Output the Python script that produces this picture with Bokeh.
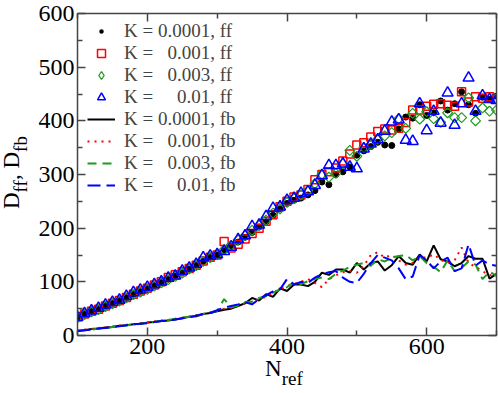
import numpy as np
from bokeh.plotting import figure
from bokeh.models import (FixedTicker, LinearAxis, Legend, LegendItem, Range1d, Div,
                          CustomJSTickFormatter)
from bokeh.layouts import row, column
from bokeh.embed import file_html
from bokeh.resources import INLINE

# ---------------- data ----------------
n_ref = [100, 110, 120, 130, 140, 150, 160, 170, 180, 190,
         200, 210, 220, 230, 240, 250, 260, 270, 280, 290,
         300, 310, 320, 330, 340, 350, 360, 370, 380, 390,
         400, 410, 420, 430, 440, 450, 460, 470, 480, 490,
         500, 510, 520, 530, 540, 550, 560, 570, 580, 590,
         600, 610, 620, 630, 640, 650, 660, 670, 680, 690, 700]

ff_k0001 = [34, 40, 45, 50, 55, 60, 65, 71, 77, 82,
            88, 93, 99, 105, 111, 117, 124, 131, 138, 146,
            150, 158, 166, 174, 183, 192, 202, 212, 224, 236,
            246, 252, 256, 262, 270, 286, 281, 300, 305, 314,
            336, 344, 352, 360, 355, 354, 385, 407, 405, 430,
            410, 415, 437, 420, 432, 454, 430, 414, 444, 440, 446]

ff_k001 = [35, 40, 45, 49, 55, 60, 65, 71, 77, 83,
           88, 94, 100, 108, 113, 119, 125, 131, 139, 146,
           150, 175, 163, 170, 180, 190, 200, 213, 225, 240,
           250, 258, 262, 272, 290, 300, 305, 312, 325, 338,
           355, 359, 370, 380, 385, 383, 386, 397, 420, 420,
           427, 431, 432, 429, 427, 454, 435, 445, 442, 445, 440]

ff_k003 = [33, 39, 44, 48, 54, 59, 64, 70, 76, 81,
           86, 92, 98, 104, 110, 116, 124, 130, 138, 145,
           150, 160, 168, 178, 186, 196, 205, 215, 228, 236,
           248, 255, 262, 270, 283, 300, 295, 302, 320, 345,
           334, 350, 356, 366, 372, 378, 404, 386, 414, 403,
           417, 404, 397, 415, 406, 406, 443, 400, 424, 418, 420]

ff_k01 = [34, 41, 46, 51, 57, 62, 66, 73, 80, 85,
          90, 95, 100, 107, 111, 120, 126, 133, 145, 148,
          151, 157, 165, 179, 186, 203, 206, 222, 237, 240,
          252, 256, 265, 268, 280, 298, 317, 317, 320, 314,
          311, 348, 357, 365, 381, 398, 402, 364, 362, 432,
          382, 418, 396, 452, 392, 432, 480, 418, 447, 440, 438]

fb_k0001 = [9, 10, 12, 13, 15, 16, 18, 19, 21, 22,
            24, 25, 27, 28, 30, 32, 35, 36, 40, 42,
            45, 48, 50, 55, 60, 70, 65, 77, 72, 88,
            83, 95, 95, 92, 100, 117, 113, 123, 123, 117,
            135, 123, 135, 138, 121, 131, 148, 135, 132, 151,
            138, 168, 142, 138, 129, 135, 148, 143, 143, 106, 115]

fb_k001 = [9, 11, 12, 14, 15, 17, 18, 20, 21, 23,
           24, 26, 28, 29, 31, 33, 35, 38, 40, 43,
           46, 50, 52, 56, 60, 63, 68, 72, 80, 86,
           92, 96, 100, 105, 98, 90, 105, 112, 118, 120,
           117, 130, 150, 155, 145, 150, 140, 132, 135, 146,
           145, 151, 141, 135, 140, 164, 135, 128, 120, 112, 115]

fb_k003 = [9, 10, 11, 13, 14, 16, 17, 19, 20, 22,
           24, 25, 27, 29, 31, 33, 35, 37, 40, 43,
           46, 68, 52, 56, 62, 63, 70, 73, 80, 86,
           90, 100, 96, 101, 105, 108, 105, 115, 121, 128,
           132, 135, 130, 142, 138, 145, 148, 150, 140, 148,
           135, 128, 118, 140, 120, 126, 138, 132, 105, 119, 111]

fb_k01 = [8, 10, 11, 13, 14, 16, 17, 19, 21, 22,
          23, 25, 27, 28, 30, 32, 34, 37, 40, 42,
          47, 52, 55, 58, 62, 58, 68, 75, 82, 86,
          105, 95, 100, 98, 108, 114, 118, 120, 108, 100,
          98, 115, 135, 150, 145, 140, 125, 105, 110, 150,
          140, 125, 138, 145, 120, 125, 170, 130, 140, 132, 130]

legend_labels = ["K = 0.0001, ff",
                 "K = \u00a0\u00a00.001, ff",
                 "K = \u00a0\u00a00.003, ff",
                 "K = \u00a0\u00a0\u00a0\u00a00.01, ff",
                 "K = 0.0001, fb",
                 "K = \u00a0\u00a00.001, fb",
                 "K = \u00a0\u00a00.003, fb",
                 "K = \u00a0\u00a0\u00a0\u00a00.01, fb"]

x_major = [200, 400, 600]
x_minor = [100, 300, 500, 700]
y_major = [0, 100, 200, 300, 400, 500, 600]
y_minor = [50, 150, 250, 350, 450, 550]

# ---------------- figure ----------------
FONT = "Liberation Serif"
AX = "#444444"
GREEN = "#1f9a1f"
NAN = float("nan")

Y_W = 30                 # width of the y-title strip
P_W, P_H = 498 - Y_W, 368
p = figure(width=P_W, height=P_H, x_range=Range1d(100, 700), y_range=Range1d(0, 600),
           output_backend="svg", toolbar_location=None,
           min_border_left=77 - Y_W, min_border_right=2, min_border_top=13,
           min_border_bottom=33)
p.xgrid.visible = False
p.ygrid.visible = False
p.outline_line_color = None

xt = FixedTicker(ticks=x_major, minor_ticks=x_minor)
yt = FixedTicker(ticks=y_major, minor_ticks=y_minor)
blank = CustomJSTickFormatter(code="return ''")


def style_axis(ax, show_labels=True):
    ax.axis_line_color = AX
    ax.axis_line_width = 1.5
    ax.major_tick_line_color = AX
    ax.minor_tick_line_color = AX
    ax.major_tick_line_width = 1.5
    ax.minor_tick_line_width = 1.5
    ax.major_tick_in = 8
    ax.major_tick_out = 0
    ax.minor_tick_in = 5
    ax.minor_tick_out = 0
    ax.major_label_text_font = FONT
    ax.major_label_text_color = "black"
    ax.major_label_text_font_size = "24px"
    if show_labels:
        ax.major_label_standoff = 3
    else:
        ax.formatter = blank
        ax.major_label_standoff = 0


p.xaxis.ticker = xt
p.yaxis.ticker = yt
style_axis(p.xaxis[0])
style_axis(p.yaxis[0])

top = LinearAxis(ticker=xt)
style_axis(top, False)
p.add_layout(top, "above")
right = LinearAxis(ticker=yt)
style_axis(right, False)
p.add_layout(right, "right")

# ---------------- glyphs ----------------
r1 = p.scatter(n_ref, ff_k0001, marker="circle", size=6, color="black")
r2 = p.scatter(n_ref, ff_k001, marker="square", size=8, line_color="red",
               fill_alpha=0, line_width=1.5)
r3 = p.scatter(n_ref, ff_k003, marker="square", size=7, angle=np.pi / 4,
               line_color=GREEN, fill_alpha=0, line_width=1.2)
r4 = p.scatter(n_ref, ff_k01, marker="triangle", size=11, line_color="blue",
               fill_alpha=0, line_width=1.5)

r5 = p.line(n_ref, fb_k0001, line_color="black", line_width=2)
r6 = p.line(n_ref, fb_k001, line_color="red", line_width=2, line_dash="2 5")
r7 = p.line(n_ref, fb_k003, line_color=GREEN, line_width=2, line_dash="9 6")
r8 = p.line(n_ref, fb_k01, line_color="blue", line_width=2, line_dash="13 6")

# legend-key styles only (NaN = nothing drawn in the plot): small dot, diamond
k1 = p.scatter(x=[NAN], y=[NAN], marker="circle", size=6, fill_color="black",
               line_color="white", line_width=3.5)
k3 = p.scatter(x=[NAN], y=[NAN], marker="diamond", size=10, line_color=GREEN,
               fill_alpha=0, line_width=1.3)

rends = [k1, r2, k3, r4, r5, r6, r7, r8]
legend = Legend(items=[LegendItem(label=l, renderers=[r]) for l, r in zip(legend_labels, rends)],
                location=(10, 139), margin=0, padding=0, spacing=-1,
                glyph_width=28, glyph_height=20, label_height=20, label_standoff=9,
                label_text_font=FONT, label_text_font_size="19px",
                background_fill_alpha=0, border_line_color=None)
p.add_layout(legend)

# ---------------- axis titles as HTML text (with subscripts) ----------------
ylab_html = (
    f'<div style="position:relative;width:{Y_W}px;height:393px;">'
    '<div style="position:absolute;left:0px;top:209px;transform:rotate(-90deg);'
    'transform-origin:0 0;white-space:nowrap;font-family:\'Liberation Serif\';'
    'font-size:23px;line-height:23px;color:black;">'
    'D<span style="font-size:19px;vertical-align:-8px;">ff</span>, '
    'D<span style="font-size:19px;vertical-align:-8px;">fb</span></div></div>'
)
xlab_html = (
    f'<div style="position:relative;width:{P_W}px;height:{393 - P_H}px;">'
    f'<div style="position:absolute;left:{265 - Y_W}px;top:0px;white-space:nowrap;'
    'font-family:\'Liberation Serif\';font-size:23px;line-height:2px;color:black;">'
    'N<span style="font-size:19px;vertical-align:-9px;">ref</span></div></div>'
)
ydiv = Div(text=ylab_html, width=Y_W, height=393, margin=(0, 0, 0, 0))
xdiv = Div(text=xlab_html, width=P_W, height=393 - P_H, margin=(0, 0, 0, 0))

layout = row(ydiv, column(p, xdiv, spacing=0), spacing=0)

open("out.html", "w").write(file_html(layout, INLINE))
